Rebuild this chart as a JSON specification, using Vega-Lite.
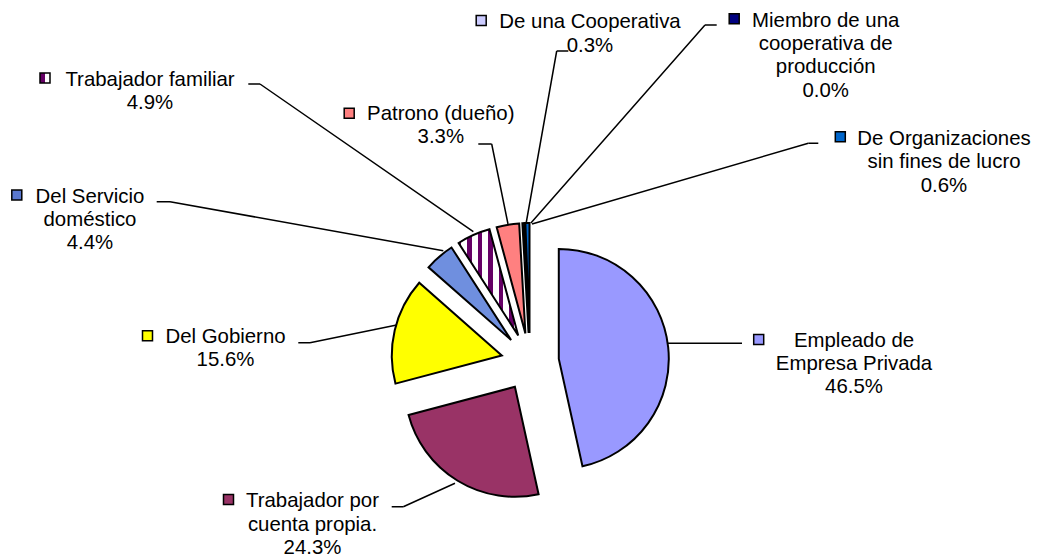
{
  "$schema": "https://vega.github.io/schema/vega-lite/v6.json",
  "width": 1018,
  "height": 392,
  "autosize": {"type": "none"},
  "padding": {"left": 21, "top": 166, "right": 0, "bottom": 0},
  "background": "white",
  "config": {"view": {"stroke": null}, "font": "Liberation Sans"},
  "data": {
    "values": [
      {"orden": 1, "categoria": "Empleado de Empresa Privada", "pct": 46.5, "etiqueta": "Empleado de\nEmpresa Privada\n46.5%"},
      {"orden": 2, "categoria": "Trabajador por cuenta propia.", "pct": 24.3, "etiqueta": "Trabajador por\ncuenta propia.\n24.3%"},
      {"orden": 3, "categoria": "Del Gobierno", "pct": 15.6, "etiqueta": "Del Gobierno\n15.6%"},
      {"orden": 4, "categoria": "Del Servicio doméstico", "pct": 4.4, "etiqueta": "Del Servicio\ndoméstico\n4.4%"},
      {"orden": 5, "categoria": "Trabajador familiar", "pct": 4.9, "etiqueta": "Trabajador familiar\n4.9%"},
      {"orden": 6, "categoria": "Patrono (dueño)", "pct": 3.3, "etiqueta": "Patrono (dueño)\n3.3%"},
      {"orden": 7, "categoria": "De una Cooperativa", "pct": 0.3, "etiqueta": "De una Cooperativa\n0.3%"},
      {"orden": 8, "categoria": "Miembro de una cooperativa de producción", "pct": 0.0, "etiqueta": "Miembro de una\ncooperativa de\nproducción\n0.0%"},
      {"orden": 9, "categoria": "De Organizaciones sin fines de lucro", "pct": 0.6, "etiqueta": "De Organizaciones\nsin fines de lucro\n0.6%"}
    ]
  },
  "transform": [
    {"stack": "pct", "groupby": [], "sort": [{"field": "orden", "order": "ascending"}], "offset": "normalize", "as": ["t0", "t1"]}
  ],
  "layer": [
    {
      "transform": [{"filter": "datum.orden === 1"}],
      "layer": [
        {"mark": {"type": "arc", "outerRadius": 110, "xOffset": 28.8, "yOffset": -3.1, "fill": "#9999FF", "stroke": "#000000", "strokeWidth": 2, "strokeJoin": "miter"},
         "encoding": {"theta": {"field": "t0", "type": "quantitative", "scale": {"domain": [0, 1]}}, "theta2": {"field": "t1"}}},
        {"mark": {"type": "arc", "theta": 1.5708, "theta2": 1.5708, "outerRadius": 74, "innerRadius": 0, "xOffset": 138, "yOffset": -18.7, "fill": "#000000", "stroke": "#000000", "strokeWidth": 1.5}, "encoding": {}},
        {"mark": {"type": "point", "shape": "square", "size": 100, "filled": true, "fill": "#9999FF", "stroke": "#000000", "strokeWidth": 1.5, "opacity": 1, "xOffset": 228.7, "yOffset": -22.5}, "encoding": {}},
        {"mark": {"type": "text", "align": "center", "baseline": "alphabetic", "dx": 324, "dy": -15.3, "fontSize": 20.4, "lineHeight": 23.3, "lineBreak": "\n", "font": "Liberation Sans", "fill": "#000000"},
         "encoding": {"text": {"field": "etiqueta", "type": "nominal"}}}
      ]
    },
    {
      "transform": [{"filter": "datum.orden === 2"}],
      "layer": [
        {"mark": {"type": "arc", "outerRadius": 110, "xOffset": -15.1, "yOffset": 24.8, "fill": "#993366", "stroke": "#000000", "strokeWidth": 2, "strokeJoin": "miter"},
         "encoding": {"theta": {"field": "t0", "type": "quantitative", "scale": {"domain": [0, 1]}}, "theta2": {"field": "t1"}}},
        {"mark": {"type": "arc", "theta": 1.5708, "theta2": 1.5708, "outerRadius": 11.6, "innerRadius": 0, "xOffset": -138.3, "yOffset": 144.7, "fill": "#000000", "stroke": "#000000", "strokeWidth": 1.5}, "encoding": {}},
        {"mark": {"type": "arc", "theta": 1.1457, "theta2": 1.1457, "outerRadius": 56.75, "innerRadius": 0, "xOffset": -126.7, "yOffset": 144.7, "fill": "#000000", "stroke": "#000000", "strokeWidth": 1.5}, "encoding": {}},
        {"mark": {"type": "point", "shape": "square", "size": 100, "filled": true, "fill": "#993366", "stroke": "#000000", "strokeWidth": 1.5, "opacity": 1, "xOffset": -301.5, "yOffset": 137.5}, "encoding": {}},
        {"mark": {"type": "text", "align": "center", "baseline": "alphabetic", "dx": -217.5, "dy": 145.4, "fontSize": 20.4, "lineHeight": 23.3, "lineBreak": "\n", "font": "Liberation Sans", "fill": "#000000"},
         "encoding": {"text": {"field": "etiqueta", "type": "nominal"}}}
      ]
    },
    {
      "transform": [{"filter": "datum.orden === 3"}],
      "layer": [
        {"mark": {"type": "arc", "outerRadius": 110, "xOffset": -28.2, "yOffset": -6.6, "fill": "#FFFF00", "stroke": "#000000", "strokeWidth": 2, "strokeJoin": "miter"},
         "encoding": {"theta": {"field": "t0", "type": "quantitative", "scale": {"domain": [0, 1]}}, "theta2": {"field": "t1"}}},
        {"mark": {"type": "arc", "theta": 1.5708, "theta2": 1.5708, "outerRadius": 11.7, "innerRadius": 0, "xOffset": -231.7, "yOffset": -19.3, "fill": "#000000", "stroke": "#000000", "strokeWidth": 1.5}, "encoding": {}},
        {"mark": {"type": "arc", "theta": 1.3694, "theta2": 1.3694, "outerRadius": 88.49, "innerRadius": 0, "xOffset": -220, "yOffset": -19.3, "fill": "#000000", "stroke": "#000000", "strokeWidth": 1.5}, "encoding": {}},
        {"mark": {"type": "point", "shape": "square", "size": 100, "filled": true, "fill": "#FFFF00", "stroke": "#000000", "strokeWidth": 1.5, "opacity": 1, "xOffset": -382.5, "yOffset": -26.2}, "encoding": {}},
        {"mark": {"type": "text", "align": "center", "baseline": "alphabetic", "dx": -304.5, "dy": -19.3, "fontSize": 20.4, "lineHeight": 23.3, "lineBreak": "\n", "font": "Liberation Sans", "fill": "#000000"},
         "encoding": {"text": {"field": "etiqueta", "type": "nominal"}}}
      ]
    },
    {
      "transform": [{"filter": "datum.orden === 4"}],
      "layer": [
        {"mark": {"type": "arc", "outerRadius": 110, "xOffset": -18.9, "yOffset": -22.0, "fill": "#6F8FDF", "stroke": "#000000", "strokeWidth": 2, "strokeJoin": "miter"},
         "encoding": {"theta": {"field": "t0", "type": "quantitative", "scale": {"domain": [0, 1]}}, "theta2": {"field": "t1"}}},
        {"mark": {"type": "arc", "theta": 1.5708, "theta2": 1.5708, "outerRadius": 13.3, "innerRadius": 0, "xOffset": -373.3, "yOffset": -160.3, "fill": "#000000", "stroke": "#000000", "strokeWidth": 1.5}, "encoding": {}},
        {"mark": {"type": "arc", "theta": 1.7482, "theta2": 1.7482, "outerRadius": 277.66, "innerRadius": 0, "xOffset": -360, "yOffset": -160.3, "fill": "#000000", "stroke": "#000000", "strokeWidth": 1.5}, "encoding": {}},
        {"mark": {"type": "point", "shape": "square", "size": 100, "filled": true, "fill": "#5A78D0", "stroke": "#000000", "strokeWidth": 1.5, "opacity": 1, "xOffset": -513.2, "yOffset": -167}, "encoding": {}},
        {"mark": {"type": "text", "align": "center", "baseline": "alphabetic", "dx": -440, "dy": -159.3, "fontSize": 20.4, "lineHeight": 23.3, "lineBreak": "\n", "font": "Liberation Sans", "fill": "#000000"},
         "encoding": {"text": {"field": "etiqueta", "type": "nominal"}}}
      ]
    },
    {
      "transform": [{"filter": "datum.orden === 5"}],
      "layer": [
        {"mark": {"type": "arc", "outerRadius": 110, "xOffset": -11.8, "yOffset": -26.5,
                  "fill": {"gradient": "linear", "x1": 0, "y1": 0, "x2": 1, "y2": 0, "stops": [
                    {"offset": 0, "color": "#660066"}, {"offset": 0.044, "color": "#660066"},
                    {"offset": 0.044, "color": "#FFFFFF"}, {"offset": 0.146, "color": "#FFFFFF"},
                    {"offset": 0.146, "color": "#660066"}, {"offset": 0.22, "color": "#660066"},
                    {"offset": 0.22, "color": "#FFFFFF"}, {"offset": 0.322, "color": "#FFFFFF"},
                    {"offset": 0.322, "color": "#660066"}, {"offset": 0.396, "color": "#660066"},
                    {"offset": 0.396, "color": "#FFFFFF"}, {"offset": 0.498, "color": "#FFFFFF"},
                    {"offset": 0.498, "color": "#660066"}, {"offset": 0.572, "color": "#660066"},
                    {"offset": 0.572, "color": "#FFFFFF"}, {"offset": 0.674, "color": "#FFFFFF"},
                    {"offset": 0.674, "color": "#660066"}, {"offset": 0.748, "color": "#660066"},
                    {"offset": 0.748, "color": "#FFFFFF"}, {"offset": 0.851, "color": "#FFFFFF"},
                    {"offset": 0.851, "color": "#660066"}, {"offset": 0.925, "color": "#660066"},
                    {"offset": 0.925, "color": "#FFFFFF"}, {"offset": 1, "color": "#FFFFFF"}]},
                  "stroke": "#000000", "strokeWidth": 2, "strokeJoin": "miter"},
         "encoding": {"theta": {"field": "t0", "type": "quantitative", "scale": {"domain": [0, 1]}}, "theta2": {"field": "t1"}}},
        {"mark": {"type": "arc", "theta": 1.5708, "theta2": 1.5708, "outerRadius": 11.7, "innerRadius": 0, "xOffset": -281.7, "yOffset": -278, "fill": "#000000", "stroke": "#000000", "strokeWidth": 1.5}, "encoding": {}},
        {"mark": {"type": "arc", "theta": 2.1764, "theta2": 2.1764, "outerRadius": 259.45, "innerRadius": 0, "xOffset": -270, "yOffset": -278, "fill": "#000000", "stroke": "#000000", "strokeWidth": 1.5}, "encoding": {}},
        {"mark": {"type": "point", "shape": "square", "size": 100, "filled": true,
                  "fill": {"gradient": "linear", "x1": 0, "y1": 0, "x2": 1, "y2": 0, "stops": [
                    {"offset": 0, "color": "#660066"}, {"offset": 0.55, "color": "#660066"},
                    {"offset": 0.55, "color": "#FFFFFF"}, {"offset": 1, "color": "#FFFFFF"}]},
                  "stroke": "#000000", "strokeWidth": 1.5, "opacity": 1, "xOffset": -485, "yOffset": -284}, "encoding": {}},
        {"mark": {"type": "text", "align": "center", "baseline": "alphabetic", "dx": -380, "dy": -276.3, "fontSize": 20.4, "lineHeight": 23.3, "lineBreak": "\n", "font": "Liberation Sans", "fill": "#000000"},
         "encoding": {"text": {"field": "etiqueta", "type": "nominal"}}}
      ]
    },
    {
      "transform": [{"filter": "datum.orden === 6"}],
      "layer": [
        {"mark": {"type": "arc", "outerRadius": 110, "xOffset": -4.6, "yOffset": -28.6, "fill": "#FF8080", "stroke": "#000000", "strokeWidth": 2, "strokeJoin": "miter"},
         "encoding": {"theta": {"field": "t0", "type": "quantitative", "scale": {"domain": [0, 1]}}, "theta2": {"field": "t1"}}},
        {"mark": {"type": "arc", "theta": 1.5708, "theta2": 1.5708, "outerRadius": 13.4, "innerRadius": 0, "xOffset": -51.7, "yOffset": -218, "fill": "#000000", "stroke": "#000000", "strokeWidth": 1.5}, "encoding": {}},
        {"mark": {"type": "arc", "theta": 2.9406, "theta2": 2.9406, "outerRadius": 81.64, "innerRadius": 0, "xOffset": -38.3, "yOffset": -218, "fill": "#000000", "stroke": "#000000", "strokeWidth": 1.5}, "encoding": {}},
        {"mark": {"type": "point", "shape": "square", "size": 100, "filled": true, "fill": "#FF8080", "stroke": "#000000", "strokeWidth": 1.5, "opacity": 1, "xOffset": -180.8, "yOffset": -248.8}, "encoding": {}},
        {"mark": {"type": "text", "align": "center", "baseline": "alphabetic", "dx": -89.2, "dy": -242, "fontSize": 20.4, "lineHeight": 23.3, "lineBreak": "\n", "font": "Liberation Sans", "fill": "#000000"},
         "encoding": {"text": {"field": "etiqueta", "type": "nominal"}}}
      ]
    },
    {
      "transform": [{"filter": "datum.orden === 7"}],
      "layer": [
        {"mark": {"type": "arc", "outerRadius": 110, "xOffset": -1.4, "yOffset": -29.0, "fill": "#CCCCFF", "stroke": "#000000", "strokeWidth": 2, "strokeJoin": "miter"},
         "encoding": {"theta": {"field": "t0", "type": "quantitative", "scale": {"domain": [0, 1]}}, "theta2": {"field": "t1"}}},
        {"mark": {"type": "arc", "theta": 1.5708, "theta2": 1.5708, "outerRadius": 11.6, "innerRadius": 0, "xOffset": 26.7, "yOffset": -311, "fill": "#000000", "stroke": "#000000", "strokeWidth": 1.5}, "encoding": {}},
        {"mark": {"type": "arc", "theta": 3.3173, "theta2": 3.3173, "outerRadius": 175.7, "innerRadius": 0, "xOffset": 26.7, "yOffset": -311, "fill": "#000000", "stroke": "#000000", "strokeWidth": 1.5}, "encoding": {}},
        {"mark": {"type": "point", "shape": "square", "size": 100, "filled": true, "fill": "#CCCCFF", "stroke": "#000000", "strokeWidth": 1.5, "opacity": 1, "xOffset": -48.8, "yOffset": -341.5}, "encoding": {}},
        {"mark": {"type": "text", "align": "center", "baseline": "alphabetic", "dx": 60, "dy": -333.6, "fontSize": 20.4, "lineHeight": 23.3, "lineBreak": "\n", "font": "Liberation Sans", "fill": "#000000"},
         "encoding": {"text": {"field": "etiqueta", "type": "nominal"}}}
      ]
    },
    {
      "transform": [{"filter": "datum.orden === 8"}],
      "layer": [
        {"mark": {"type": "arc", "outerRadius": 110, "xOffset": -1.0, "yOffset": -29.0, "fill": "#000080", "stroke": "#000000", "strokeWidth": 2, "strokeJoin": "miter"},
         "encoding": {"theta": {"field": "t0", "type": "quantitative", "scale": {"domain": [0, 1]}}, "theta2": {"field": "t1"}}},
        {"mark": {"type": "arc", "theta": 1.5708, "theta2": 1.5708, "outerRadius": 11.7, "innerRadius": 0, "xOffset": 175, "yOffset": -337, "fill": "#000000", "stroke": "#000000", "strokeWidth": 1.5}, "encoding": {}},
        {"mark": {"type": "arc", "theta": 3.863, "theta2": 3.863, "outerRadius": 263.6, "innerRadius": 0, "xOffset": 175, "yOffset": -337, "fill": "#000000", "stroke": "#000000", "strokeWidth": 1.5}, "encoding": {}},
        {"mark": {"type": "point", "shape": "square", "size": 100, "filled": true, "fill": "#000080", "stroke": "#000000", "strokeWidth": 1.5, "opacity": 1, "xOffset": 204.2, "yOffset": -343.3}, "encoding": {}},
        {"mark": {"type": "text", "align": "center", "baseline": "alphabetic", "dx": 295.7, "dy": -335.3, "fontSize": 20.4, "lineHeight": 23.3, "lineBreak": "\n", "font": "Liberation Sans", "fill": "#000000"},
         "encoding": {"text": {"field": "etiqueta", "type": "nominal"}}}
      ]
    },
    {
      "transform": [{"filter": "datum.orden === 9"}],
      "layer": [
        {"mark": {"type": "arc", "outerRadius": 110, "xOffset": -0.5, "yOffset": -29.0, "fill": "#0066CC", "stroke": "#000000", "strokeWidth": 2, "strokeJoin": "miter"},
         "encoding": {"theta": {"field": "t0", "type": "quantitative", "scale": {"domain": [0, 1]}}, "theta2": {"field": "t1"}}},
        {"mark": {"type": "arc", "theta": 1.5708, "theta2": 1.5708, "outerRadius": 10, "innerRadius": 0, "xOffset": 278.3, "yOffset": -218.7, "fill": "#000000", "stroke": "#000000", "strokeWidth": 1.5}, "encoding": {}},
        {"mark": {"type": "arc", "theta": 4.4283, "theta2": 4.4283, "outerRadius": 287.8, "innerRadius": 0, "xOffset": 278.3, "yOffset": -218.7, "fill": "#000000", "stroke": "#000000", "strokeWidth": 1.5}, "encoding": {}},
        {"mark": {"type": "point", "shape": "square", "size": 100, "filled": true, "fill": "#0066CC", "stroke": "#000000", "strokeWidth": 1.5, "opacity": 1, "xOffset": 310.3, "yOffset": -225.3}, "encoding": {}},
        {"mark": {"type": "text", "align": "center", "baseline": "alphabetic", "dx": 414, "dy": -217, "fontSize": 20.4, "lineHeight": 23.3, "lineBreak": "\n", "font": "Liberation Sans", "fill": "#000000"},
         "encoding": {"text": {"field": "etiqueta", "type": "nominal"}}}
      ]
    }
  ]
}
